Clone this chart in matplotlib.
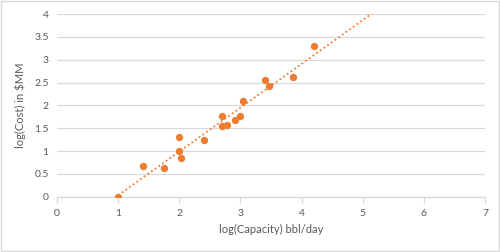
import numpy as np
import matplotlib.pyplot as plt

# data
log_capacity = [1.0, 1.40, 1.75, 2.0, 2.0, 2.03, 2.40, 2.70, 2.70, 2.78, 2.91,
                3.0, 3.04, 3.40, 3.46, 3.86, 4.20]
log_cost = [0.0, 0.67, 0.64, 1.31, 1.0, 0.85, 1.24, 1.76, 1.54, 1.57, 1.68,
            1.78, 2.09, 2.55, 2.43, 2.62, 3.31]

ORANGE = "#ED7D31"
GRID = "#D9D9D9"
TXT = "#595959"

plt.rcParams['font.family'] = ['Lato', 'DejaVu Sans']

fig = plt.figure(figsize=(5, 2.52), dpi=100)
ax = fig.add_axes([0.114, 0.219, 0.856, 0.725])

ax.scatter(log_capacity, log_cost, s=28, color=ORANGE, zorder=3, linewidths=0)

# linear trendline (forecast forward until it leaves the plot)
k, b = np.polyfit(log_capacity, log_cost, 1)
xs = np.array([min(log_capacity), 5.3])
ax.plot(xs, k * xs + b, color=ORANGE, linestyle=(0, (1, 1.5)), linewidth=1.3, zorder=2)

ax.set_xlim(0, 7)
ax.set_ylim(0, 4)
ax.set_xticks(range(0, 8))
ax.set_yticks(np.arange(0, 4.01, 0.5))
ax.set_yticklabels(["0", "0.5", "1", "1.5", "2", "2.5", "3", "3.5", "4"])
ax.grid(axis="y", color=GRID, linewidth=0.9)
ax.set_axisbelow(True)

for s in ["top", "right", "left"]:
    ax.spines[s].set_visible(False)
ax.spines["bottom"].set_color(GRID)
ax.spines["bottom"].set_linewidth(0.9)
ax.tick_params(axis="x", colors=GRID, length=4, width=0.9, labelcolor=TXT, labelsize=7.5, pad=5)
ax.tick_params(axis="y", length=0, labelcolor=TXT, labelsize=7.5, pad=6)

ax.set_xlabel("log(Capacity) bbl/day", color=TXT, fontsize=8, labelpad=4)
ax.set_ylabel("log(Cost) in $MM", color=TXT, fontsize=8, labelpad=6)

# light frame around the chart
fig.patches.append(plt.Rectangle((0.002, 0.004), 0.996, 0.992, transform=fig.transFigure,
                                 fill=False, edgecolor="#D9D9D9", linewidth=1.0))

fig.savefig("out.png", dpi=100)
